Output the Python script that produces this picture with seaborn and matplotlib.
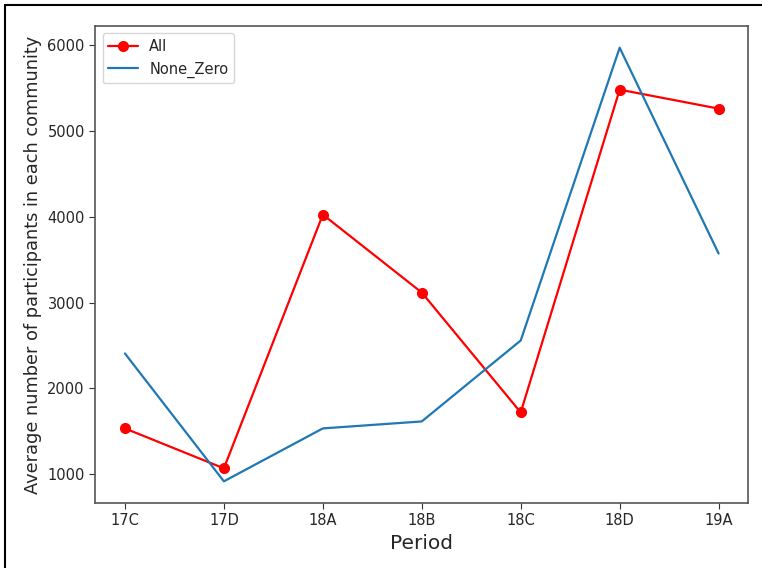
import numpy as np
import pandas as pd
import matplotlib
matplotlib.use("Agg")
import matplotlib.pyplot as plt
import seaborn as sns
from matplotlib.lines import Line2D

periods = ["17C", "17D", "18A", "18B", "18C", "18D", "19A"]
all_vals = [1535, 1070, 4023, 3116, 1721, 5477, 5256]
none_zero_vals = [2407, 919, 1535, 1616, 2558, 5965, 3570]

sns.set_style("ticks")
plt.rcParams['font.family'] = ['DejaVu Sans']

df = pd.DataFrame({
    "x": np.arange(len(periods)),
    "All": all_vals,
    "None_Zero": none_zero_vals,
})

fig = plt.figure(figsize=(7.62, 5.68), dpi=100)
ax = fig.add_axes([0.125, 0.1144, 0.857, 0.8398])

sns.lineplot(data=df, x="x", y="All", ax=ax, color="red",
             marker="o", markersize=8, markeredgewidth=0,
             linewidth=1.6, label="All")
sns.lineplot(data=df, x="x", y="None_Zero", ax=ax, color="#1f77b4",
             linewidth=1.6, label="None_Zero")

ax.set_xticks(df["x"])
ax.set_xticklabels(periods)
ax.margins(x=0.05, y=0.05)
ax.set_xlabel("Period", fontsize=14.5)
ax.set_ylabel("Average number of participants in each community", fontsize=12.8)
ax.tick_params(labelsize=10.5, color="#333333", length=4)
for s in ax.spines.values():
    s.set_color("#555555")
    s.set_linewidth(1.2)

ax.legend(loc="upper left", fontsize=10.5, frameon=True)

# outer border of the original screenshot
fig.add_artist(Line2D([0.006, 0.006], [0, 0.991], color="black", lw=1.5))
fig.add_artist(Line2D([0.006, 1], [0.991, 0.991], color="black", lw=1.5))

plt.savefig("out.png", dpi=100)
plt.close()
